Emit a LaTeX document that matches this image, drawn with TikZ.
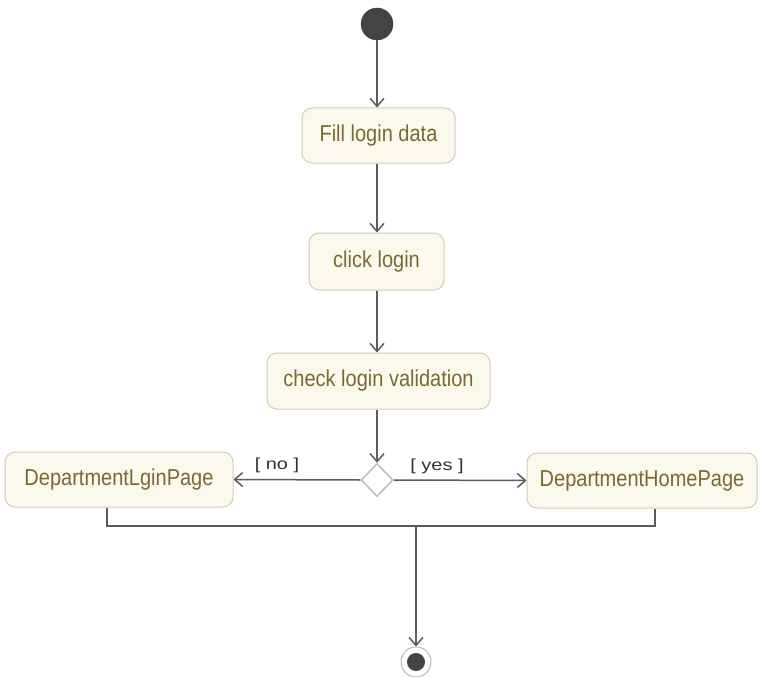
\documentclass[tikz,border=0pt]{standalone}
\usepackage{fontspec}
\usepackage{graphicx}
\setmainfont{Liberation Sans}
\usetikzlibrary{arrows.meta,shapes.geometric}
\definecolor{boxfill}{HTML}{FBF8EE}
\definecolor{boxedge}{HTML}{D6CCAE}
\definecolor{boxtext}{HTML}{7A6A32}
\definecolor{linegray}{HTML}{5C5C5C}
\definecolor{nodedark}{HTML}{444444}
\definecolor{lightedge}{HTML}{BDBDBD}
\definecolor{guardtext}{HTML}{333333}
\newcommand{\boxlbl}[1]{\scalebox{1}[1.15]{#1}}
\newcommand{\guardlbl}[1]{\scalebox{1.25}[1]{#1}}
\tikzset{
  actbox/.style={draw=boxedge, fill=boxfill, rounded corners=10pt, line width=1pt,
    text=boxtext, font=\fontsize{20}{24}\selectfont, inner sep=0pt, anchor=center},
  flow/.style={draw=linegray, line width=1.5pt,
    -{Straight Barb[length=8pt,width=14pt,line width=1.5pt]}},
  joinline/.style={draw=linegray, line width=1.5pt},
  guard/.style={text=guardtext, font=\fontsize{16}{19}\selectfont, inner sep=0pt},
}
\begin{document}
\begin{tikzpicture}[x=1pt,y=-1pt]
\useasboundingbox (0,0) rectangle (761,677);
\fill[white] (0,0) rectangle (761,677);
% start node
\node[circle, fill=nodedark, draw=nodedark!80!black, minimum size=32pt, inner sep=0pt] (start) at (377,24) {};
% actions
\node[actbox, minimum width=153pt, minimum height=55pt] (fill) at (378.5,135.5) {\boxlbl{Fill login data}};
\node[actbox, minimum width=135pt, minimum height=57pt] (click) at (376.5,261.5) {\boxlbl{click login}};
\node[actbox, minimum width=223pt, minimum height=56pt] (check) at (378.5,381) {\boxlbl{check login validation}};
\node[actbox, minimum width=228pt, minimum height=55pt] (lgin) at (119,479.5) {\boxlbl{DepartmentLginPage}};
\node[actbox, minimum width=230pt, minimum height=55pt] (home) at (642,480.5) {\boxlbl{DepartmentHomePage}};
% decision
\node[diamond, draw=lightedge, fill=white, line width=1.5pt, minimum width=32pt, minimum height=33pt, inner sep=0pt] (dec) at (377,480) {};
% final node
\node[circle, draw=lightedge, fill=white, line width=1pt, minimum size=30pt, inner sep=0pt] (end) at (416,662) {};
\node[circle, fill=nodedark, minimum size=18pt, inner sep=0pt] (endin) at (end.center) {};
% guards
\node[guard] (no) at (277,465) {\guardlbl{[ no ]}};
\node[guard] (yes) at (437,466) {\guardlbl{[ yes ]}};
% join coordinates
\coordinate (jl) at (107,526);
\coordinate (jr) at (655,526);
\coordinate (jm) at (416,526);
% flows
\draw[flow] (start.south) -- (fill.north -| start.south);
\draw[flow] (fill.south -| start.south) -- (click.north -| start.south);
\draw[flow] (click.south -| start.south) -- (check.north -| start.south);
\draw[flow] (check.south -| dec.north) -- (dec.north);
\draw[flow] (dec.west) -- (lgin.east);
\draw[flow] (dec.east) -- (home.west);
\draw[joinline] (jl |- lgin.south) -- (jl) -- (jr) -- (jr |- home.south);
\draw[flow] (jm) -- (end.north);
\end{tikzpicture}
\end{document}
